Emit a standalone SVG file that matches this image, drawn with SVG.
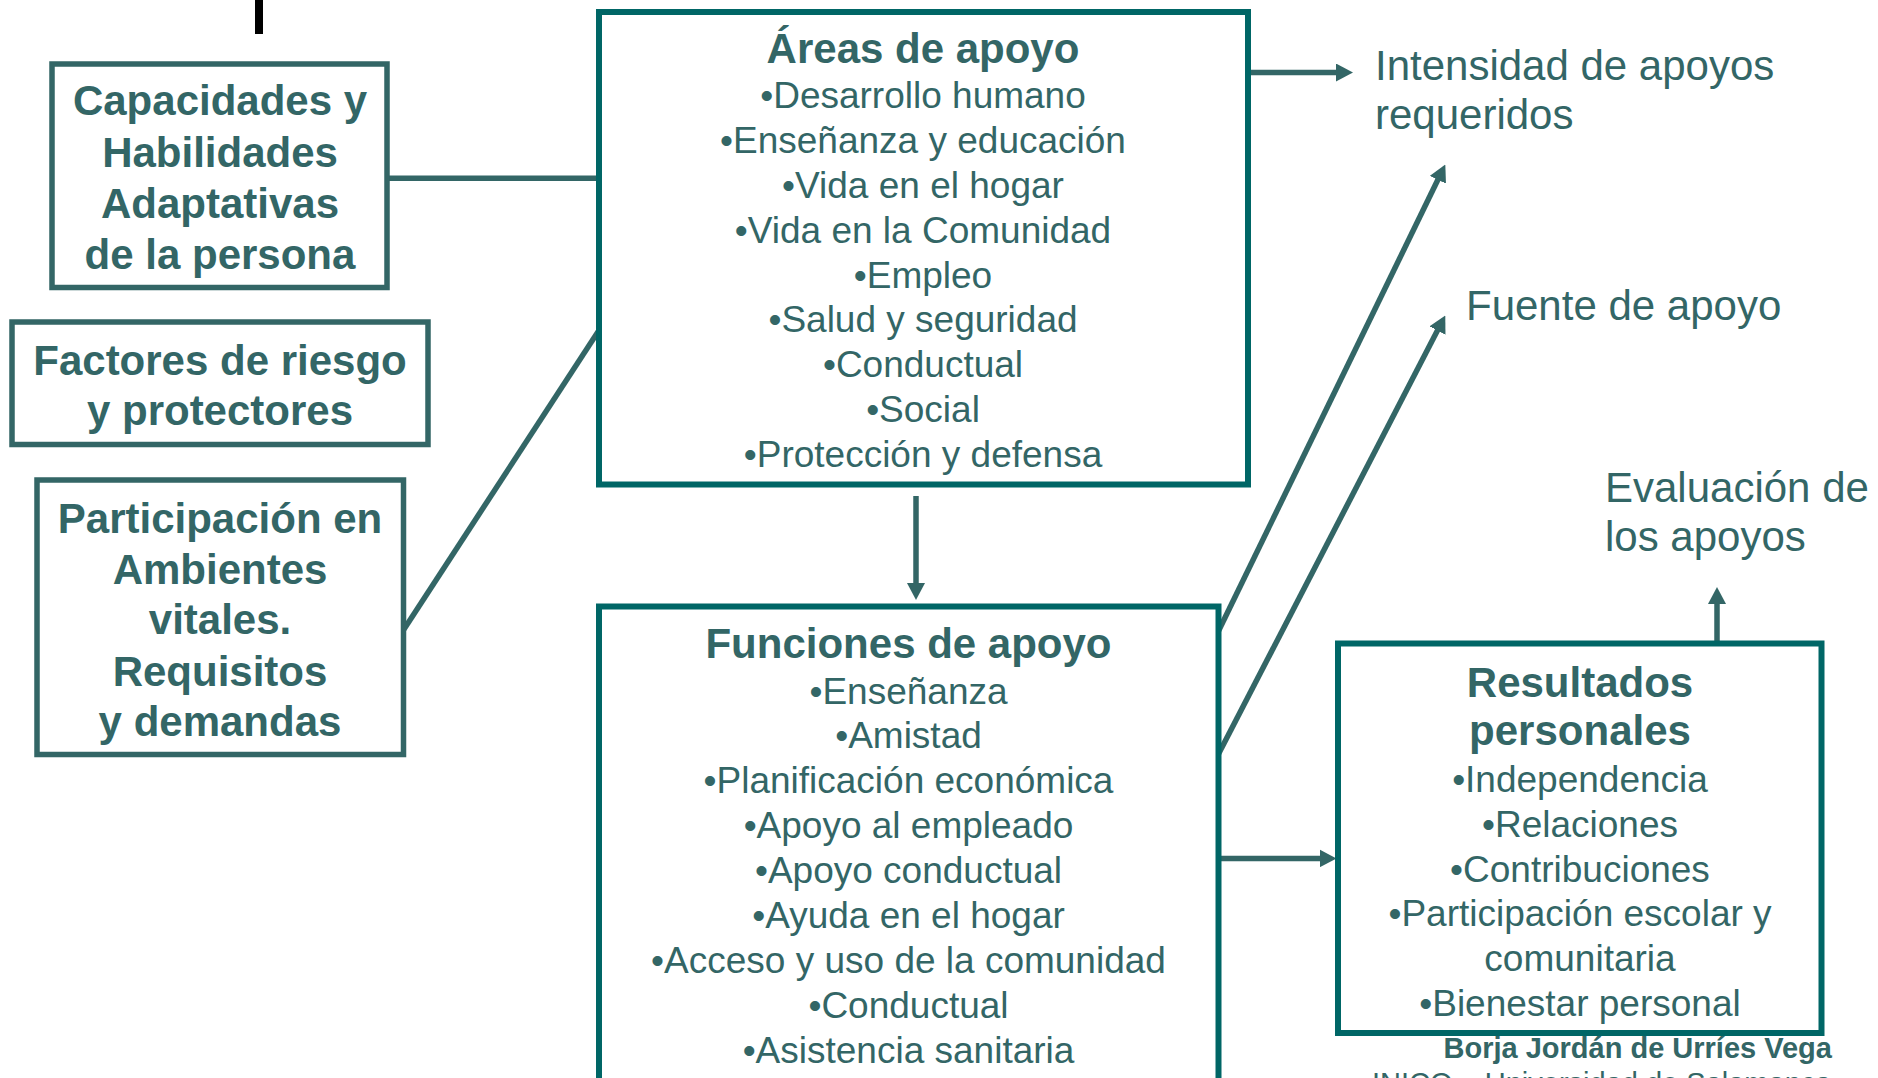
<svg xmlns="http://www.w3.org/2000/svg" width="1878" height="1078" viewBox="0 0 1878 1078">
<style>
text{font-family:"Liberation Sans",Arial,Helvetica,sans-serif;fill:#336666}
.b{font-weight:bold;font-size:42px}
.i{font-size:37px}
.l{font-size:42px}
.c{text-anchor:middle}
.lb{fill:#ffffff;stroke:#336666;stroke-width:5.5}
.tb{fill:#ffffff;stroke:#006666;stroke-width:6}
.cn{stroke:#336666;stroke-width:5.5;fill:none}
</style>
<defs>
<marker id="ah" viewBox="0 0 17 18" markerWidth="17" markerHeight="18" refX="0.5" refY="9" orient="auto" markerUnits="userSpaceOnUse">
<path d="M0,0 L17,9 L0,18 z" fill="#336666"/>
</marker>
</defs>
<rect x="255" y="0" width="8" height="34" fill="#000000"/>
<g id="connectors">
<line class="cn" x1="387" y1="178.3" x2="599" y2="178.3"/>
<line class="cn" x1="598.5" y1="331" x2="403.5" y2="630"/>
<line class="cn" x1="1248" y1="72.5" x2="1336.5" y2="72.5" marker-end="url(#ah)"/>
<line class="cn" x1="916" y1="496" x2="916" y2="583.5" marker-end="url(#ah)"/>
<line class="cn" x1="1218.5" y1="858.4" x2="1320" y2="858.4" marker-end="url(#ah)"/>
<line class="cn" x1="1717" y1="643.5" x2="1717" y2="603.5" marker-end="url(#ah)"/>
<line class="cn" x1="1218.5" y1="631" x2="1438.1" y2="179.3" marker-end="url(#ah)"/>
<line class="cn" x1="1218.5" y1="754" x2="1437.7" y2="330.1" marker-end="url(#ah)"/>
</g>
<g id="capacidades">
<rect class="lb" x="52" y="64" width="335" height="223.5"/>
<text class="b c" x="220" y="115">Capacidades y</text>
<text class="b c" x="220" y="166.7">Habilidades</text>
<text class="b c" x="220" y="218.3">Adaptativas</text>
<text class="b c" x="220" y="269.3">de la persona</text>
</g>
<g id="factores">
<rect class="lb" x="12" y="322" width="416" height="122.5"/>
<text class="b c" x="220" y="375">Factores de riesgo</text>
<text class="b c" x="220" y="425">y protectores</text>
</g>
<g id="participacion">
<rect class="lb" x="37" y="480" width="366.5" height="274.5"/>
<text class="b c" x="220" y="532.7">Participación en</text>
<text class="b c" x="220" y="584">Ambientes</text>
<text class="b c" x="220" y="634.3">vitales.</text>
<text class="b c" x="220" y="686">Requisitos</text>
<text class="b c" x="220" y="736">y demandas</text>
</g>
<g id="areas">
<rect class="tb" x="599" y="12" width="649" height="472.5"/>
<text class="b c" x="923" y="63.3">Áreas de apoyo</text>
<text class="i c" x="923" y="108.3">•Desarrollo humano</text>
<text class="i c" x="923" y="153.1">•Enseñanza y educación</text>
<text class="i c" x="923" y="197.9">•Vida en el hogar</text>
<text class="i c" x="923" y="242.7">•Vida en la Comunidad</text>
<text class="i c" x="923" y="287.5">•Empleo</text>
<text class="i c" x="923" y="332.3">•Salud y seguridad</text>
<text class="i c" x="923" y="377.1">•Conductual</text>
<text class="i c" x="923" y="421.9">•Social</text>
<text class="i c" x="923" y="466.7">•Protección y defensa</text>
</g>
<g id="funciones">
<rect class="tb" x="599" y="606.5" width="619.5" height="480"/>
<text class="b c" x="908.5" y="658">Funciones de apoyo</text>
<text class="i c" x="908.5" y="703.5">•Enseñanza</text>
<text class="i c" x="908.5" y="748.4">•Amistad</text>
<text class="i c" x="908.5" y="793.3">•Planificación económica</text>
<text class="i c" x="908.5" y="838.2">•Apoyo al empleado</text>
<text class="i c" x="908.5" y="883.1">•Apoyo conductual</text>
<text class="i c" x="908.5" y="928">•Ayuda en el hogar</text>
<text class="i c" x="908.5" y="972.9">•Acceso y uso de la comunidad</text>
<text class="i c" x="908.5" y="1017.8">•Conductual</text>
<text class="i c" x="908.5" y="1062.7">•Asistencia sanitaria</text>
</g>
<g id="resultados">
<rect class="tb" x="1338" y="643.5" width="483.5" height="389.5"/>
<text class="b c" x="1580" y="696.7">Resultados</text>
<text class="b c" x="1580" y="745">personales</text>
<text class="i c" x="1580" y="792.3">•Independencia</text>
<text class="i c" x="1580" y="837">•Relaciones</text>
<text class="i c" x="1580" y="881.6">•Contribuciones</text>
<text class="i c" x="1580" y="926.3">•Participación escolar y</text>
<text class="i c" x="1580" y="970.9">comunitaria</text>
<text class="i c" x="1580" y="1015.5">•Bienestar personal</text>
</g>
<g id="intensidad">
<text class="l" x="1375" y="79.6">Intensidad de apoyos</text>
<text class="l" x="1375" y="129">requeridos</text>
</g>
<g id="fuente">
<text class="l" x="1466" y="320">Fuente de apoyo</text>
</g>
<g id="evaluacion">
<text class="l" x="1605" y="501.5">Evaluación de</text>
<text class="l" x="1605" y="551">los apoyos</text>
</g>
<g id="footer">
<text x="1443.5" y="1058" style="font-weight:bold;font-size:29px">Borja Jordán de Urríes Vega</text>
<text x="1372" y="1093" style="font-size:29px">INICO – Universidad de Salamanca</text>
</g>
</svg>
